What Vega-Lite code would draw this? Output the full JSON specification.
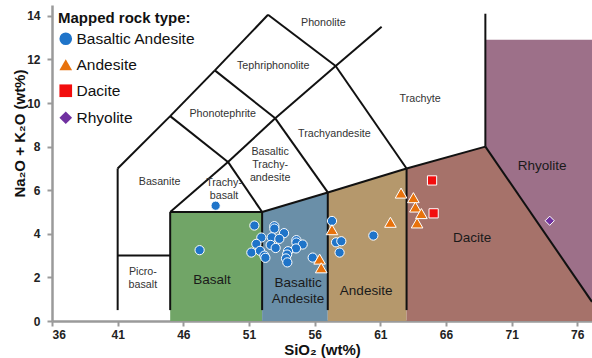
{
  "$schema": "https://vega.github.io/schema/vega-lite/v6.json",
  "width": 540,
  "height": 316,
  "autosize": {"type": "none"},
  "padding": {"left": 52, "top": 5, "right": 0, "bottom": 37},
  "config": {"view": {"stroke": null}, "font": "Liberation Sans"},
  "datasets": {
    "regions": [
      {"region": "Basalt", "x": 45, "y": 5, "y2": 0},
      {"region": "Basalt", "x": 52, "y": 5, "y2": 0},
      {"region": "Basaltic Andesite", "x": 52, "y": 5, "y2": 0},
      {"region": "Basaltic Andesite", "x": 57, "y": 5.9, "y2": 0},
      {"region": "Andesite", "x": 57, "y": 5.9, "y2": 0},
      {"region": "Andesite", "x": 63, "y": 7, "y2": 0},
      {"region": "Dacite", "x": 63, "y": 7, "y2": 0},
      {"region": "Dacite", "x": 69, "y": 8, "y2": 0},
      {"region": "Dacite", "x": 77.12, "y": 0.88, "y2": 0},
      {"region": "Rhyolite", "x": 69, "y": 12.9, "y2": 8},
      {"region": "Rhyolite", "x": 77.12, "y": 12.9, "y2": 0.88}
    ],
    "segments": [
      {"x": 41, "y": 0.5, "x2": 41, "y2": 7},
      {"x": 41, "y": 3, "x2": 45, "y2": 3},
      {"x": 45, "y": 0.5, "x2": 45, "y2": 5},
      {"x": 52, "y": 0.5, "x2": 52, "y2": 5},
      {"x": 57, "y": 0.5, "x2": 57, "y2": 5.9},
      {"x": 63, "y": 0.5, "x2": 63, "y2": 7},
      {"x": 45, "y": 5, "x2": 52, "y2": 5},
      {"x": 52, "y": 5, "x2": 57, "y2": 5.9},
      {"x": 57, "y": 5.9, "x2": 63, "y2": 7},
      {"x": 63, "y": 7, "x2": 69, "y2": 8},
      {"x": 69, "y": 8, "x2": 69, "y2": 14.1},
      {"x": 69, "y": 8, "x2": 77.12, "y2": 0.88},
      {"x": 41, "y": 7, "x2": 45, "y2": 9.4},
      {"x": 45, "y": 9.4, "x2": 48.4, "y2": 11.5},
      {"x": 48.4, "y": 11.5, "x2": 52.45, "y2": 14.05},
      {"x": 52.45, "y": 14.05, "x2": 57.6, "y2": 11.7},
      {"x": 57.6, "y": 11.7, "x2": 61.1, "y2": 13.5},
      {"x": 57.6, "y": 11.7, "x2": 63, "y2": 7},
      {"x": 45, "y": 9.4, "x2": 49.4, "y2": 7.3},
      {"x": 49.4, "y": 7.3, "x2": 45, "y2": 5},
      {"x": 49.4, "y": 7.3, "x2": 52, "y2": 5},
      {"x": 49.4, "y": 7.3, "x2": 53, "y2": 9.3},
      {"x": 48.4, "y": 11.5, "x2": 53, "y2": 9.3},
      {"x": 53, "y": 9.3, "x2": 57.6, "y2": 11.7},
      {"x": 53, "y": 9.3, "x2": 57, "y2": 5.9}
    ],
    "smallLabels": [
      {"label": "Phonolite", "x": 56.66, "y": 13.68},
      {"label": "Tephriphonolite", "x": 52.85, "y": 11.7},
      {"label": "Phonotephrite", "x": 49.0, "y": 9.49},
      {"label": "Trachyte", "x": 64.03, "y": 10.18},
      {"label": "Trachyandesite", "x": 57.5, "y": 8.56},
      {"label": "Basaltic\nTrachy-\nandesite", "x": 52.61, "y": 7.75},
      {"label": "Basanite", "x": 44.19, "y": 6.39},
      {"label": "Trachy-\nbasalt", "x": 49.1, "y": 6.34},
      {"label": "Picro-\nbasalt", "x": 42.92, "y": 2.26}
    ],
    "bigLabels": [
      {"label": "Basalt", "x": 48.18, "y": 1.88},
      {"label": "Basaltic\nAndesite", "x": 54.74, "y": 1.73},
      {"label": "Andesite", "x": 59.92, "y": 1.39},
      {"label": "Dacite", "x": 68.0, "y": 3.79},
      {"label": "Rhyolite", "x": 73.33, "y": 7.12}
    ],
    "points": [
      {"type": "Basaltic Andesite", "x": 48.46, "y": 5.29},
      {"type": "Basaltic Andesite", "x": 47.24, "y": 3.25},
      {"type": "Basaltic Andesite", "x": 51.41, "y": 4.38},
      {"type": "Basaltic Andesite", "x": 51.94, "y": 3.83},
      {"type": "Basaltic Andesite", "x": 51.56, "y": 3.54},
      {"type": "Basaltic Andesite", "x": 51.18, "y": 3.14},
      {"type": "Basaltic Andesite", "x": 51.84, "y": 3.22},
      {"type": "Basaltic Andesite", "x": 52.17, "y": 3.0},
      {"type": "Basaltic Andesite", "x": 52.25, "y": 2.9},
      {"type": "Basaltic Andesite", "x": 52.93, "y": 4.35},
      {"type": "Basaltic Andesite", "x": 52.93, "y": 4.24},
      {"type": "Basaltic Andesite", "x": 52.73, "y": 3.84},
      {"type": "Basaltic Andesite", "x": 53.67, "y": 4.03},
      {"type": "Basaltic Andesite", "x": 53.31, "y": 3.77},
      {"type": "Basaltic Andesite", "x": 52.65, "y": 3.49},
      {"type": "Basaltic Andesite", "x": 53.03, "y": 3.35},
      {"type": "Basaltic Andesite", "x": 54.61, "y": 3.71},
      {"type": "Basaltic Andesite", "x": 54.61, "y": 3.6},
      {"type": "Basaltic Andesite", "x": 55.09, "y": 3.51},
      {"type": "Basaltic Andesite", "x": 54.58, "y": 3.33},
      {"type": "Basaltic Andesite", "x": 53.97, "y": 3.2},
      {"type": "Basaltic Andesite", "x": 53.9, "y": 3.05},
      {"type": "Basaltic Andesite", "x": 53.82, "y": 2.87},
      {"type": "Basaltic Andesite", "x": 53.92, "y": 2.69},
      {"type": "Basaltic Andesite", "x": 55.85, "y": 2.91},
      {"type": "Basaltic Andesite", "x": 57.32, "y": 4.59},
      {"type": "Basaltic Andesite", "x": 57.63, "y": 3.61},
      {"type": "Basaltic Andesite", "x": 58.03, "y": 3.66},
      {"type": "Basaltic Andesite", "x": 57.9, "y": 3.14},
      {"type": "Basaltic Andesite", "x": 60.47, "y": 3.92},
      {"type": "Andesite", "x": 57.32, "y": 4.19},
      {"type": "Andesite", "x": 56.38, "y": 2.84},
      {"type": "Andesite", "x": 56.5, "y": 2.44},
      {"type": "Andesite", "x": 62.58, "y": 5.87},
      {"type": "Andesite", "x": 61.77, "y": 4.53},
      {"type": "Andesite", "x": 63.52, "y": 5.66},
      {"type": "Andesite", "x": 63.67, "y": 5.23},
      {"type": "Andesite", "x": 64.13, "y": 4.93},
      {"type": "Andesite", "x": 63.8, "y": 4.5},
      {"type": "Dacite", "x": 64.94, "y": 6.45},
      {"type": "Dacite", "x": 65.06, "y": 4.94},
      {"type": "Rhyolite", "x": 73.9, "y": 4.6}
    ]
  },
  "encoding": {
    "x": {
      "field": "x", "type": "quantitative",
      "scale": {"domain": [36, 77.12], "nice": false, "zero": false},
      "axis": {
        "title": "SiO₂ (wt%)", "values": [36, 41, 46, 51, 56, 61, 66, 71, 76],
        "grid": false, "domainColor": "#9a9a9a", "domainWidth": 2.5,
        "tickColor": "#9a9a9a", "tickWidth": 2, "tickSize": 5,
        "labelFont": "Liberation Sans", "labelFontSize": 12, "labelFontWeight": "bold", "labelColor": "#222",
        "labelPadding": 3, "titleFont": "Liberation Sans", "titleFontSize": 15, "titleFontWeight": "bold",
        "titleColor": "#111", "titlePadding": 2
      }
    },
    "y": {
      "field": "y", "type": "quantitative", "stack": null,
      "scale": {"domain": [0, 14.5], "nice": false},
      "axis": {
        "title": "Na₂O + K₂O (wt%)", "values": [0, 2, 4, 6, 8, 10, 12, 14],
        "grid": false, "domainColor": "#9a9a9a", "domainWidth": 2.5,
        "tickColor": "#9a9a9a", "tickWidth": 2, "tickSize": 5,
        "labelFont": "Liberation Sans", "labelFontSize": 12, "labelFontWeight": "bold", "labelColor": "#222",
        "labelPadding": 7, "titleFont": "Liberation Sans", "titleFontSize": 15, "titleFontWeight": "bold",
        "titleColor": "#111", "titleBaseline": "middle", "titleX": -33, "titleY": 128
      }
    }
  },
  "layer": [
    {
      "data": {"name": "regions"},
      "mark": {"type": "area", "opacity": 1, "clip": true},
      "encoding": {
        "y2": {"field": "y2"},
        "color": {
          "field": "region", "type": "nominal", "legend": null,
          "scale": {
            "domain": ["Basalt", "Basaltic Andesite", "Andesite", "Dacite", "Rhyolite"],
            "range": ["#71a567", "#6a8fa8", "#b5986c", "#a6726a", "#9d7089"]
          }
        }
      }
    },
    {
      "data": {"name": "segments"},
      "mark": {"type": "rule", "color": "#111", "strokeWidth": 2, "clip": true},
      "encoding": {"x2": {"field": "x2"}, "y2": {"field": "y2"}}
    },
    {
      "data": {"name": "smallLabels"},
      "mark": {"type": "text", "fontSize": 10.7, "color": "#333", "lineBreak": "\n", "lineHeight": 12.8, "font": "Liberation Sans"},
      "encoding": {"text": {"field": "label"}}
    },
    {
      "data": {"name": "bigLabels"},
      "mark": {"type": "text", "fontSize": 13.5, "color": "#1a1a1a", "lineBreak": "\n", "lineHeight": 15.5, "font": "Liberation Sans"},
      "encoding": {"text": {"field": "label"}}
    },
    {
      "data": {"name": "points"},
      "mark": {"type": "point", "filled": true, "opacity": 1, "size": 85, "stroke": "white", "strokeWidth": 1},
      "encoding": {
        "fill": {
          "field": "type", "type": "nominal",
          "scale": {
            "domain": ["Basaltic Andesite", "Andesite", "Dacite", "Rhyolite"],
            "range": ["#1f74c9", "#e8720c", "#f20d0d", "#7030a0"]
          },
          "legend": {
            "title": "Mapped rock type:", "orient": "top-left", "offset": 6, "padding": 0,
            "titleFont": "Liberation Sans", "titleFontSize": 15, "titleFontWeight": "bold", "titleColor": "#111",
            "titlePadding": 5, "labelFont": "Liberation Sans", "labelFontSize": 15.5, "labelColor": "#111",
            "symbolSize": 160, "symbolStrokeColor": "#c8c8c8", "symbolStrokeWidth": 1.5, "rowPadding": 7, "labelOffset": 3
          }
        },
        "shape": {
          "field": "type", "type": "nominal",
          "scale": {
            "domain": ["Basaltic Andesite", "Andesite", "Dacite", "Rhyolite"],
            "range": ["circle", "triangle-up", "square", "diamond"]
          },
          "legend": {
            "title": "Mapped rock type:", "orient": "top-left", "offset": 6, "padding": 0,
            "titleFont": "Liberation Sans", "titleFontSize": 15, "titleFontWeight": "bold", "titleColor": "#111",
            "titlePadding": 5, "labelFont": "Liberation Sans", "labelFontSize": 15.5, "labelColor": "#111",
            "symbolSize": 160, "symbolStrokeColor": "#c8c8c8", "symbolStrokeWidth": 1.5, "rowPadding": 7, "labelOffset": 3
          }
        }
      }
    },
    {
      "data": {"name": "points"},
      "transform": [{"filter": "datum.type === 'Andesite'"}],
      "mark": {"type": "point", "filled": true, "opacity": 1, "size": 135, "stroke": "white", "strokeWidth": 1},
      "encoding": {
        "fill": {"field": "type", "type": "nominal"},
        "shape": {"field": "type", "type": "nominal"}
      }
    }
  ],
  "resolve": {"scale": {"color": "independent"}}
}
